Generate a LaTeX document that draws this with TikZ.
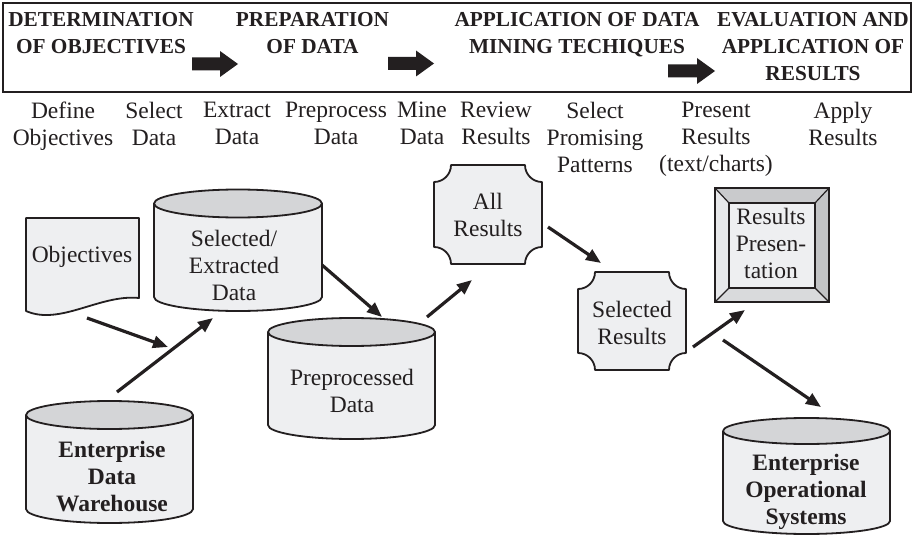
\documentclass[tikz,border=0pt]{standalone}
\usepackage{fontspec}
\setmainfont{Liberation Serif}
\usetikzlibrary{arrows.meta}
\definecolor{ink}{HTML}{231F20}
\definecolor{bodyfill}{HTML}{EEEFF1}
\definecolor{topfill}{HTML}{D4D5D7}
\definecolor{bevtop}{HTML}{C9CACC}
\definecolor{bevright}{HTML}{C2C3C5}
\definecolor{bevleft}{HTML}{E7E8EA}
\definecolor{bevbot}{HTML}{D9DADC}
\tikzset{
  shapeline/.style={draw=ink, line width=1.8pt, line join=round},
  hdr/.style={font=\fontsize{21.3}{27}\selectfont\bfseries, align=center, inner sep=0pt, anchor=north, text=ink},
  lbl/.style={font=\fontsize{23.5}{27}\selectfont, align=center, inner sep=0pt, anchor=north, text=ink},
  dtxt/.style={font=\fontsize{23.5}{27}\selectfont, align=center, inner sep=0pt, text=ink},
  conn/.style={draw=ink, line width=3.2pt, -{Triangle[length=15pt,width=12pt]}},
  blockarrow/.style={fill=ink}
}
\newcommand{\mydbcyl}[5]{%
  \fill[bodyfill] ({#1-#4},#2) -- ({#1-#4},#3) arc[start angle=180,end angle=360,x radius=#4pt,y radius=#5pt] -- ({#1+#4},#2) -- cycle;
  \draw[shapeline] ({#1-#4},#2) -- ({#1-#4},#3) arc[start angle=180,end angle=360,x radius=#4pt,y radius=#5pt] -- ({#1+#4},#2);
  \filldraw[shapeline,fill=topfill] (#1,#2) ellipse[x radius=#4pt,y radius=#5pt];
}
\begin{document}
\begin{tikzpicture}[x=1pt,y=-1pt]
\useasboundingbox (0,0) rectangle (914,535);
\fill[white] (0,0) rectangle (914,535);

% header frame
\draw[draw=ink, line width=1.6pt] (3,3) rectangle (911,92);
\node[hdr] (h1) at (101,12) {DETERMINATION\\OF OBJECTIVES};
\node[hdr] (h2) at (312.5,12) {PREPARATION\\OF DATA};
\node[hdr] (h3) at (577,12) {APPLICATION OF DATA\\MINING TECHIQUES};
\node[hdr] (h4) at (813,12) {EVALUATION AND\\APPLICATION OF\\RESULTS};
\fill[blockarrow] (192,57.5) -- (220,57.5) -- (220,51) -- (238,64) -- (220,77) -- (220,70.5) -- (192,70.5) -- cycle;
\fill[blockarrow] (388,57) -- (416,57) -- (416,50.5) -- (434,63.5) -- (416,76.5) -- (416,70) -- (388,70) -- cycle;
\fill[blockarrow] (668,64.5) -- (697,64.5) -- (697,58) -- (715,71) -- (697,84) -- (697,77.5) -- (668,77.5) -- cycle;

% step labels
\node[lbl] (s1) at (63,102) {Define\\Objectives};
\node[lbl] (s2) at (154,102) {Select\\Data};
\node[lbl] (s3) at (237,102) {Extract\\Data};
\node[lbl] (s4) at (336,102) {Preprocess\\Data};
\node[lbl] (s5) at (422,102) {Mine\\Data};
\node[lbl] (s6) at (496,102) {Review\\Results};
\node[lbl] (s7) at (595,102) {Select\\Promising\\Patterns};
\node[lbl] (s8) at (716,102) {Present\\Results\\(text/charts)};
\node[lbl] (s9) at (843,102) {Apply\\Results};

% objectives document
\filldraw[shapeline, fill=bodyfill] (26,218) -- (139,218) -- (139,298) .. controls (100,294) and (60,326) .. (26,311) -- cycle;
\node[dtxt] (obj) at (82,257) {Objectives};

% cylinders
\mydbcyl{238}{203.5}{297}{84}{14}
\node[dtxt] (sel) at (234,265) {Selected/\\Extracted\\Data};
\mydbcyl{351.5}{332}{425}{83.5}{14}
\node[dtxt] (pre) at (352,391) {Preprocessed\\Data};
\mydbcyl{109.5}{415}{509}{83.5}{14}
\node[dtxt, font=\fontsize{23.5}{27}\selectfont\bfseries] (edw) at (112,477) {Enterprise\\Data\\Warehouse};
\mydbcyl{806.5}{431}{521}{83.5}{13}
\node[dtxt, font=\fontsize{23.5}{27}\selectfont\bfseries] (eos) at (806,492) {Enterprise\\Operational\\Systems};

% notched boxes
\filldraw[shapeline, fill=bodyfill] (451,165) -- (525,165) arc[start angle=180,end angle=270,radius=17pt] -- (542,247) arc[start angle=90,end angle=180,radius=17pt] -- (451,264) arc[start angle=0,end angle=90,radius=17pt] -- (434,182) arc[start angle=270,end angle=360,radius=17pt] -- cycle;
\node[dtxt] (allr) at (488,215) {All\\Results};
\filldraw[shapeline, fill=bodyfill] (595,272) -- (669,272) arc[start angle=180,end angle=270,radius=17pt] -- (686,353) arc[start angle=90,end angle=180,radius=17pt] -- (595,370) arc[start angle=0,end angle=90,radius=17pt] -- (578,289) arc[start angle=270,end angle=360,radius=17pt] -- cycle;
\node[dtxt] (selr) at (632,323) {Selected\\Results};

% bevel box
\fill[bevtop] (715,188) -- (829,188) -- (815,203) -- (729,203) -- cycle;
\fill[bevright] (829,188) -- (829,302) -- (815,288) -- (815,203) -- cycle;
\fill[bevbot] (715,302) -- (829,302) -- (815,288) -- (729,288) -- cycle;
\fill[bevleft] (715,188) -- (729,203) -- (729,288) -- (715,302) -- cycle;
\fill[bodyfill] (729,203) rectangle (815,288);
\draw[draw=ink, line width=1.5pt] (715,188) rectangle (829,302);
\draw[draw=ink, line width=1.5pt] (729,203) rectangle (815,288);
\draw[draw=ink, line width=1.2pt] (715,188) -- (729,203) (829,188) -- (815,203) (829,302) -- (815,288) (715,302) -- (729,288);
\node[dtxt] (resp) at (771,243) {Results\\Presen-\\tation};

% connectors
\coordinate (a1s) at (87,318);  \coordinate (a1e) at (168,347);
\coordinate (a2s) at (117,392); \coordinate (a2e) at (213,318);
\coordinate (a3s) at (322,265); \coordinate (a3e) at (382,317);
\coordinate (a4s) at (427,317); \coordinate (a4e) at (472,280);
\coordinate (a5s) at (548,227); \coordinate (a5e) at (601,263);
\coordinate (a6s) at (693,347); \coordinate (a6e) at (745,310);
\coordinate (a7s) at (723,340); \coordinate (a7e) at (821,407);
\draw[conn] (a1s) -- (a1e);
\draw[conn] (a2s) -- (a2e);
\draw[conn] (a3s) -- (a3e);
\draw[conn] (a4s) -- (a4e);
\draw[conn] (a5s) -- (a5e);
\draw[conn] (a6s) -- (a6e);
\draw[conn] (a7s) -- (a7e);
\end{tikzpicture}
\end{document}
